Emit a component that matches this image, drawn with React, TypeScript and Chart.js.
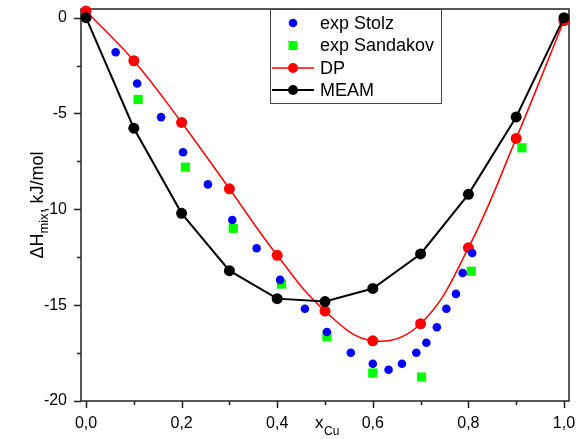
import React, { useEffect, useRef } from 'react';
import { Chart, registerables } from 'chart.js';

Chart.register(...registerables);

const stolzX = [0.062, 0.107, 0.157, 0.203, 0.255, 0.306, 0.357, 0.406, 0.458, 0.504, 0.554, 0.6, 0.633, 0.661, 0.691, 0.712, 0.734, 0.754, 0.774, 0.788, 0.808];
const stolzY = [-1.81, -3.44, -5.19, -7.02, -8.7, -10.56, -12.03, -13.68, -15.19, -16.4, -17.48, -18.06, -18.37, -18.06, -17.48, -16.96, -16.15, -15.19, -14.41, -13.32, -12.28];

const sandX = [0.109, 0.208, 0.308, 0.409, 0.504, 0.6, 0.702, 0.806, 0.912];
const sandY = [-4.27, -7.8, -10.99, -13.9, -16.63, -18.54, -18.75, -13.23, -6.79];

const dpX = [0, 0.1, 0.2, 0.3, 0.4, 0.5, 0.6, 0.7, 0.8, 0.9, 1.0];
const dpY = [0.35, -2.25, -5.47, -8.93, -12.4, -15.31, -16.86, -15.97, -12.01, -6.3, -0.15];

const meamX = [0, 0.1, 0.2, 0.3, 0.4, 0.5, 0.6, 0.7, 0.8, 0.9, 1.0];
const meamY = [0, -5.77, -10.21, -13.2, -14.66, -14.81, -14.13, -12.33, -9.22, -5.18, 0];

const xTicks = [0, 0.2, 0.4, 0.6, 0.8, 1.0];
const xMinorTicks = [0.1, 0.3, 0.5, 0.7, 0.9];
const yTicks = [-20, -15, -10, -5, 0];
const yMinorTicks = [-17.5, -12.5, -7.5, -2.5];

const legendLabels = ['exp Stolz', 'exp Sandakov', 'DP', 'MEAM'];

const FONT = 'Arial, "Liberation Sans", sans-serif';

const pts = (xs: number[], ys: number[]) => xs.map((x, i) => ({ x, y: ys[i] }));

const zeroPad = (s: any) => {
  s.paddingTop = 0;
  s.paddingBottom = 0;
  s.paddingLeft = 0;
  s.paddingRight = 0;
};

const framePlugin = {
  id: 'frame',
  beforeDatasetsDraw(chart: any) {
    const { ctx, chartArea: a, scales } = chart;
    const xs = scales.x;
    const ys = scales.y;
    ctx.save();
    ctx.strokeStyle = '#222';
    ctx.lineWidth = 1.5;
    ctx.strokeRect(a.left, a.top, a.right - a.left, a.bottom - a.top);
    ctx.beginPath();
    xTicks.forEach((v) => {
      const p = Math.round(xs.getPixelForValue(v)) + 0.5;
      ctx.moveTo(p, a.bottom);
      ctx.lineTo(p, a.bottom + 7);
    });
    xMinorTicks.forEach((v) => {
      const p = Math.round(xs.getPixelForValue(v)) + 0.5;
      ctx.moveTo(p, a.bottom);
      ctx.lineTo(p, a.bottom + 4);
    });
    yTicks.forEach((v) => {
      const p = Math.round(ys.getPixelForValue(v)) + 0.5;
      ctx.moveTo(a.left, p);
      ctx.lineTo(a.left - 7, p);
    });
    yMinorTicks.forEach((v) => {
      const p = Math.round(ys.getPixelForValue(v)) + 0.5;
      ctx.moveTo(a.left, p);
      ctx.lineTo(a.left - 4, p);
    });
    ctx.stroke();
    ctx.restore();
  },
  afterDraw(chart: any) {
    const { ctx } = chart;
    ctx.save();
    const lx = 270.5, ly = 9.5, lw = 171, lh = 94;
    ctx.fillStyle = '#fff';
    ctx.fillRect(lx, ly, lw, lh);
    ctx.strokeStyle = '#444';
    ctx.lineWidth = 1;
    ctx.strokeRect(lx, ly, lw, lh);
    const rows = [23, 45.5, 68, 90];
    const mx = 293;
    ctx.fillStyle = '#0000ff';
    ctx.beginPath();
    ctx.arc(mx, rows[0], 4.3, 0, Math.PI * 2);
    ctx.fill();
    ctx.fillStyle = '#00ff00';
    ctx.fillRect(mx - 4.5, rows[1] - 4.5, 9, 9);
    ctx.strokeStyle = '#ff0000';
    ctx.lineWidth = 1.5;
    ctx.beginPath();
    ctx.moveTo(272, rows[2]);
    ctx.lineTo(314, rows[2]);
    ctx.stroke();
    ctx.fillStyle = '#ff0000';
    ctx.beginPath();
    ctx.arc(mx, rows[2], 5, 0, Math.PI * 2);
    ctx.fill();
    ctx.strokeStyle = '#000';
    ctx.lineWidth = 2;
    ctx.beginPath();
    ctx.moveTo(272, rows[3]);
    ctx.lineTo(314, rows[3]);
    ctx.stroke();
    ctx.fillStyle = '#000';
    ctx.beginPath();
    ctx.arc(mx, rows[3], 5, 0, Math.PI * 2);
    ctx.fill();
    ctx.fillStyle = '#000';
    ctx.font = `18px ${FONT}`;
    ctx.textAlign = 'left';
    ctx.textBaseline = 'middle';
    legendLabels.forEach((t, i) => ctx.fillText(t, 320, rows[i] + 1));

    // X axis title: x_Cu
    ctx.textBaseline = 'alphabetic';
    ctx.font = `17px ${FONT}`;
    ctx.fillText('x', 315, 428);
    ctx.font = `12px ${FONT}`;
    ctx.fillText('Cu', 324, 435);

    // Y axis title: ΔH_mix, kJ/mol (rotated)
    ctx.translate(43, 205);
    ctx.rotate(-Math.PI / 2);
    ctx.font = `18px ${FONT}`;
    const p1 = '\u0394H';
    const p3 = ', kJ/mol';
    const w1 = ctx.measureText(p1).width;
    const w3 = ctx.measureText(p3).width;
    ctx.font = `13px ${FONT}`;
    const p2 = 'mix';
    const w2 = ctx.measureText(p2).width;
    let x0 = -(w1 + w2 + w3) / 2;
    ctx.font = `18px ${FONT}`;
    ctx.fillText(p1, x0, 0);
    x0 += w1;
    ctx.font = `13px ${FONT}`;
    ctx.fillText(p2, x0, 5);
    x0 += w2;
    ctx.font = `18px ${FONT}`;
    ctx.fillText(p3, x0, 0);
    ctx.restore();
  },
};

export default function App() {
  const ref = useRef<HTMLCanvasElement | null>(null);
  useEffect(() => {
    if (!ref.current) return;
    const chart = new Chart(ref.current, {
      type: 'scatter',
      data: {
        datasets: [
          {
            label: 'MEAM',
            data: pts(meamX, meamY),
            showLine: true,
            borderColor: '#000',
            backgroundColor: '#000',
            borderWidth: 2,
            pointRadius: 5.5,
            pointBorderWidth: 0,
            tension: 0,
            clip: false,
          },
          {
            label: 'exp Stolz',
            data: pts(stolzX, stolzY),
            showLine: false,
            backgroundColor: '#0000ff',
            borderColor: '#0000ff',
            pointRadius: 4.3,
            pointBorderWidth: 0,
            clip: false,
          },
          {
            label: 'exp Sandakov',
            data: pts(sandX, sandY),
            showLine: false,
            pointStyle: 'rect',
            backgroundColor: '#00ff00',
            borderColor: '#00ff00',
            pointRadius: 6.5,
            pointBorderWidth: 0,
            clip: false,
          },
          {
            label: 'DP',
            data: pts(dpX, dpY),
            showLine: true,
            borderColor: '#ff0000',
            backgroundColor: '#ff0000',
            borderWidth: 1.5,
            pointRadius: 5.5,
            pointBorderWidth: 0,
            tension: 0.4,
            clip: false,
          },
        ],
      },
      options: {
        animation: false,
        responsive: false,
        layout: { padding: { top: 9, right: 15, left: 0, bottom: 0 } },
        plugins: { legend: { display: false }, tooltip: { enabled: false } },
        scales: {
          x: {
            type: 'linear',
            min: -0.0105,
            max: 1.0105,
            grid: { display: false, drawTicks: false },
            border: { display: false },
            afterBuildTicks: (s: any) => {
              s.ticks = xTicks.map((v) => ({ value: v }));
            },
            afterFit: (s: any) => {
              s.height = 38;
              zeroPad(s);
            },
            ticks: {
              padding: 13,
              color: '#000',
              font: { family: FONT, size: 16 },
              maxRotation: 0,
              callback: (v: any) => Number(v).toFixed(1).replace('.', ','),
            },
          },
          y: {
            type: 'linear',
            min: -20,
            max: 0.45,
            grid: { display: false, drawTicks: false },
            border: { display: false },
            afterBuildTicks: (s: any) => {
              s.ticks = yTicks.map((v) => ({ value: v }));
            },
            afterFit: (s: any) => {
              s.width = 81;
              zeroPad(s);
            },
            ticks: {
              padding: 14,
              color: '#000',
              font: { family: FONT, size: 16 },
              callback: (v: any) => String(v),
            },
          },
        },
      },
      plugins: [framePlugin],
    });
    return () => chart.destroy();
  }, []);
  return (
    <div style={{ position: 'absolute', left: 0, top: 0, width: 584, height: 439, background: '#fff' }}>
      <canvas ref={ref} width={584} height={439} style={{ display: 'block' }} />
    </div>
  );
}
